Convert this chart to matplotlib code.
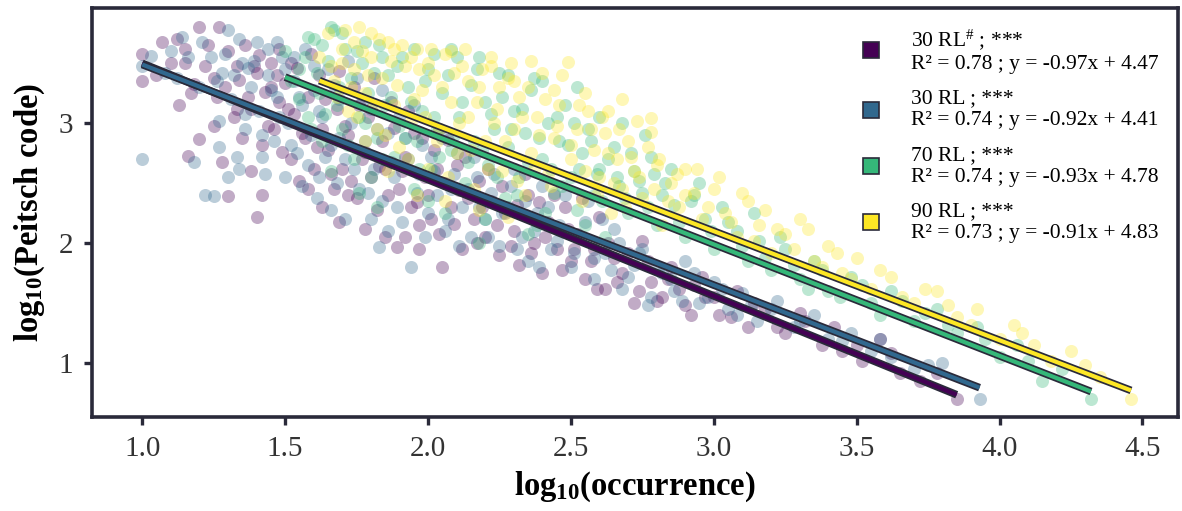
import numpy as np
import matplotlib
matplotlib.use("Agg")
import matplotlib.pyplot as plt
import matplotlib.patheffects as pe
from matplotlib.lines import Line2D

plt.rcParams["font.family"] = ["Liberation Serif", "DejaVu Serif"]
plt.rcParams["mathtext.fontset"] = "custom"
plt.rcParams["mathtext.rm"] = "Liberation Serif"
plt.rcParams["mathtext.bf"] = "Liberation Serif:bold"
plt.rcParams["mathtext.it"] = "Liberation Serif:italic"

# ---- data (log10 occurrence, log10 Peitsch code) ----
rl30_hash_pts = [
    (1.00, 3.58), (1.00, 3.35), (1.05, 3.40), (1.07, 3.68), (1.12, 3.70), (1.15, 3.62), (1.20, 3.80),
    (1.27, 3.80), (1.10, 3.50), (1.13, 3.15), (1.18, 3.33), (1.22, 3.48), (1.25, 3.38), (1.26, 3.22),
    (1.30, 3.60), (1.32, 3.05), (1.34, 3.36), (1.36, 3.65), (1.38, 3.12), (1.40, 3.42), (1.42, 2.82),
    (1.43, 3.26), (1.45, 3.50), (1.46, 2.95), (1.48, 3.18), (1.30, 2.39), (1.42, 2.40), (1.20, 2.87),
    (1.16, 2.73), (1.28, 2.68), (1.35, 2.88), (1.38, 2.60), (1.40, 2.22),
    (1.50, 3.34), (1.52, 2.70), (1.53, 3.08), (1.55, 2.52), (1.57, 2.88), (1.58, 3.22), (1.60, 2.62),
    (1.62, 3.40), (1.63, 2.95), (1.65, 2.78), (1.67, 2.45), (1.68, 3.12), (1.70, 2.62), (1.72, 2.90),
    (1.74, 3.30), (1.75, 2.38), (1.77, 2.70), (1.79, 3.05), (1.80, 2.55), (1.82, 2.28), (1.84, 2.85),
    (1.85, 2.62), (1.87, 3.18), (1.89, 1.97), (1.90, 2.45), (1.92, 2.72), (1.94, 2.30), (1.95, 2.92),
    (1.97, 2.15), (1.99, 2.55), (2.00, 2.40), (2.02, 2.78), (2.04, 2.08), (2.05, 1.80), (2.06, 2.50),
    (2.08, 2.30), (2.10, 2.65), (2.12, 1.95), (2.14, 2.38), (2.16, 2.20), (2.18, 2.52), (2.20, 2.05),
    (2.22, 2.35), (2.25, 1.90), (2.27, 2.25), (2.30, 2.10), (2.32, 1.82), (2.35, 2.40), (2.37, 2.00),
    (2.40, 1.75), (2.42, 2.18), (2.45, 1.95), (2.48, 2.30), (2.50, 1.85), (2.52, 2.08), (2.55, 1.70),
    (2.58, 1.95), (2.60, 2.22), (2.62, 1.62), (2.65, 1.88), (2.68, 1.75), (2.72, 1.50), (2.75, 2.02),
    (2.78, 1.68), (2.82, 1.55), (2.85, 1.80), (2.90, 1.48), (2.93, 1.65), (2.97, 1.55),
    (3.02, 1.40), (3.08, 1.60), (3.12, 1.30), (3.18, 1.45), (3.25, 1.25), (3.32, 1.35), (3.38, 1.15),
    (3.45, 1.10), (3.52, 1.02), (3.58, 1.20), (3.65, 0.92), (3.72, 0.85), (3.85, 0.70),
    (1.33, 3.48), (1.37, 3.22), (1.41, 3.57), (1.44, 2.98), (1.47, 3.40), (1.49, 2.76), (1.51, 3.12),
    (1.54, 3.46), (1.56, 2.92), (1.59, 3.58), (1.61, 2.80), (1.64, 3.20), (1.66, 2.58), (1.69, 3.44),
    (1.71, 2.98), (1.73, 2.52), (1.76, 3.15), (1.78, 2.76), (1.81, 3.38), (1.83, 2.64), (1.86, 2.40),
    (1.88, 2.96), (1.91, 2.60), (1.93, 3.10), (1.96, 2.34), (1.98, 2.88), (2.01, 2.20), (2.03, 2.62),
    (2.07, 2.86), (2.09, 2.16), (2.11, 2.44), (2.13, 2.72), (2.17, 2.00), (2.19, 2.30), (2.21, 2.62),
    (2.24, 2.15), (2.26, 2.48), (2.29, 1.98), (2.31, 2.32), (2.34, 2.58), (2.36, 1.92), (2.39, 2.34),
    (2.41, 2.05), (2.44, 2.40), (2.47, 1.78), (2.49, 2.12), (2.51, 1.95), (2.54, 2.38), (2.57, 1.85),
    (2.59, 1.62), (2.63, 2.00), (2.66, 1.68), (2.70, 1.92), (2.74, 1.60), (2.77, 1.85), (2.80, 1.52),
    (2.84, 1.70), (2.88, 1.62), (2.92, 1.40), (2.96, 1.72), (3.00, 1.55), (3.06, 1.38), (3.14, 1.50),
    (3.22, 1.30), (3.30, 1.42), (3.42, 1.30), (3.50, 1.15), (3.62, 1.08), (3.78, 0.92), (1.15, 3.50),
    (1.17, 3.25), (1.23, 3.65), (1.29, 3.30), (1.33, 3.12), (1.39, 3.48), (1.45, 3.30), (1.48, 3.62),
    (1.52, 3.50), (1.25, 2.98), (1.58, 2.45), (1.63, 2.30), (1.69, 2.18), (1.72, 2.40), (1.78, 2.12),
    (1.85, 2.05), (1.92, 2.05), (1.97, 1.95),
]
rl30_pts = [
    (1.00, 2.70), (1.00, 3.48), (1.03, 3.56), (1.08, 3.42), (1.10, 3.60), (1.14, 3.72), (1.18, 2.68),
    (1.22, 2.40), (1.25, 2.39), (1.20, 3.30), (1.24, 3.55), (1.27, 3.02), (1.28, 3.42), (1.30, 3.78),
    (1.31, 3.20), (1.33, 2.72), (1.35, 3.50), (1.36, 2.95), (1.38, 3.30), (1.40, 3.68), (1.41, 3.10),
    (1.43, 2.58), (1.44, 3.40), (1.46, 2.85), (1.47, 3.22), (1.49, 3.55), (1.50, 2.55), (1.51, 3.00),
    (1.53, 3.35), (1.54, 2.75), (1.56, 3.15), (1.57, 3.62), (1.59, 2.90), (1.60, 3.28), (1.62, 2.55),
    (1.63, 3.05), (1.65, 3.45), (1.66, 2.82), (1.68, 2.50), (1.69, 3.20), (1.71, 2.70), (1.73, 3.00),
    (1.75, 3.38), (1.76, 2.45), (1.78, 2.85), (1.80, 3.12), (1.81, 2.62), (1.83, 1.97), (1.84, 2.35),
    (1.86, 2.92), (1.88, 2.55), (1.90, 3.05), (1.91, 2.18), (1.93, 2.70), (1.94, 1.80), (1.96, 2.42),
    (1.98, 2.82), (2.00, 2.25), (2.02, 2.60), (2.04, 2.95), (2.06, 2.10), (2.08, 2.45), (2.10, 2.75),
    (2.12, 2.30), (2.15, 2.05), (2.17, 2.55), (2.20, 2.20), (2.22, 2.42), (2.25, 1.98), (2.28, 2.30),
    (2.30, 2.62), (2.33, 2.05), (2.35, 1.85), (2.38, 2.25), (2.40, 2.48), (2.43, 1.95), (2.46, 2.15),
    (2.50, 1.80), (2.53, 2.05), (2.56, 2.35), (2.58, 1.70), (2.62, 1.92), (2.65, 2.12), (2.68, 1.62),
    (2.72, 1.82), (2.75, 1.95), (2.78, 1.55), (2.82, 1.75), (2.86, 1.60), (2.90, 1.85), (2.95, 1.50),
    (3.00, 1.68), (3.05, 1.45), (3.10, 1.58), (3.15, 1.35), (3.22, 1.52), (3.28, 1.30), (3.35, 1.40),
    (3.40, 1.20), (3.48, 1.25), (3.55, 1.10), (3.62, 1.05), (3.70, 0.95), (3.80, 1.00), (3.93, 0.70),
    (1.32, 3.40), (1.36, 3.08), (1.39, 3.52), (1.42, 2.90), (1.45, 3.28), (1.48, 3.05), (1.50, 3.45),
    (1.52, 2.82), (1.55, 3.22), (1.58, 2.65), (1.60, 3.48), (1.62, 3.10), (1.64, 2.72), (1.67, 3.32),
    (1.69, 2.88), (1.72, 3.52), (1.74, 2.62), (1.77, 3.18), (1.79, 2.42), (1.82, 2.95), (1.84, 3.28),
    (1.87, 2.68), (1.89, 2.30), (1.92, 2.88), (1.95, 3.15), (1.97, 2.58), (1.99, 2.05), (2.01, 2.72),
    (2.03, 2.40), (2.05, 2.88), (2.07, 2.20), (2.09, 2.58), (2.11, 1.98), (2.14, 2.45), (2.16, 2.72),
    (2.18, 2.30), (2.21, 2.05), (2.23, 2.58), (2.26, 2.25), (2.29, 2.48), (2.31, 1.95), (2.34, 2.35),
    (2.37, 2.10), (2.39, 1.80), (2.42, 2.30), (2.45, 2.02), (2.48, 2.40), (2.51, 1.92), (2.55, 2.18),
    (2.58, 1.88), (2.61, 2.20), (2.64, 1.78), (2.67, 2.00), (2.70, 1.72), (2.74, 1.92), (2.77, 1.48),
    (2.81, 1.80), (2.85, 1.70), (2.89, 1.52), (2.93, 1.75), (2.98, 1.55), (3.03, 1.62), (3.08, 1.40),
    (3.13, 1.48), (3.20, 1.45), (3.30, 1.35), (3.45, 1.18), (3.58, 1.20), (3.75, 0.98), (1.12, 3.38),
    (1.16, 3.55), (1.21, 3.68), (1.26, 3.35), (1.29, 3.58), (1.34, 3.70), (1.37, 3.46), (1.44, 3.62),
    (1.47, 3.68), (1.53, 3.55), (1.27, 2.80), (1.30, 2.55), (1.34, 2.62), (1.42, 2.72), (1.56, 2.48),
    (1.61, 2.38), (1.66, 2.28), (1.71, 2.20), (1.80, 2.20), (1.86, 2.10),
]
rl70_pts = [
    (1.50, 3.60), (1.52, 3.35), (1.55, 3.45), (1.58, 3.05), (1.60, 3.70), (1.62, 3.25), (1.63, 2.85),
    (1.65, 3.52), (1.67, 3.78), (1.68, 3.15), (1.70, 2.95), (1.71, 3.62), (1.73, 3.38), (1.74, 2.70),
    (1.76, 3.05), (1.77, 3.50), (1.79, 3.25), (1.80, 2.55), (1.82, 2.88), (1.83, 3.65), (1.85, 3.15),
    (1.86, 3.40), (1.88, 2.72), (1.90, 2.98), (1.91, 3.55), (1.93, 3.30), (1.95, 2.45), (1.96, 2.85),
    (1.98, 3.10), (2.00, 3.45), (2.01, 2.62), (2.03, 2.95), (2.05, 3.25), (2.06, 2.25), (2.08, 2.78),
    (2.10, 3.55), (2.11, 3.05), (2.13, 2.50), (2.15, 3.32), (2.16, 2.85), (2.18, 2.00), (2.20, 3.18),
    (2.21, 2.65), (2.23, 2.95), (2.25, 3.42), (2.27, 2.38), (2.28, 2.80), (2.30, 3.10), (2.32, 2.55),
    (2.34, 2.92), (2.36, 3.28), (2.38, 2.15), (2.40, 2.70), (2.42, 3.00), (2.44, 2.42), (2.46, 2.85),
    (2.48, 3.15), (2.50, 2.55), (2.52, 2.28), (2.54, 2.75), (2.56, 2.95), (2.58, 2.40), (2.60, 2.62),
    (2.62, 2.05), (2.65, 2.80), (2.67, 2.48), (2.70, 2.25), (2.72, 2.60), (2.75, 2.42), (2.78, 2.72),
    (2.80, 2.15), (2.83, 2.50), (2.86, 2.32), (2.90, 2.05), (2.93, 2.40), (2.97, 2.20), (3.00, 1.95),
    (3.03, 2.30), (3.08, 2.10), (3.12, 1.85), (3.16, 2.02), (3.20, 1.78), (3.25, 1.95), (3.30, 1.70),
    (3.35, 1.85), (3.40, 1.60), (3.48, 1.72), (3.55, 1.50), (3.62, 1.60), (3.70, 1.35), (3.78, 1.45),
    (3.85, 1.25), (3.92, 1.30), (4.00, 1.05), (4.06, 1.15), (4.15, 0.85), (4.22, 0.95), (4.32, 0.70),
    (1.55, 3.20), (1.57, 3.55), (1.59, 2.95), (1.61, 3.42), (1.64, 3.08), (1.66, 2.60), (1.69, 3.30),
    (1.72, 2.82), (1.75, 3.60), (1.78, 3.00), (1.81, 3.42), (1.84, 2.70), (1.87, 3.22), (1.89, 3.48),
    (1.92, 2.88), (1.94, 3.18), (1.97, 2.62), (1.99, 3.35), (2.02, 3.05), (2.04, 2.72), (2.07, 3.40),
    (2.09, 2.90), (2.12, 3.18), (2.14, 2.68), (2.17, 3.45), (2.19, 2.78), (2.22, 3.08), (2.24, 2.55),
    (2.26, 3.22), (2.29, 2.95), (2.31, 2.40), (2.33, 3.12), (2.35, 2.68), (2.37, 3.38), (2.39, 2.88),
    (2.41, 2.25), (2.43, 2.62), (2.45, 3.05), (2.47, 2.48), (2.49, 2.82), (2.51, 3.00), (2.53, 2.62),
    (2.55, 2.15), (2.57, 2.85), (2.59, 2.58), (2.61, 2.35), (2.63, 2.70), (2.66, 2.55), (2.69, 2.38),
    (2.71, 2.75), (2.74, 2.52), (2.77, 2.30), (2.79, 2.58), (2.82, 2.40), (2.85, 2.62), (2.88, 2.18),
    (2.92, 2.35), (2.95, 2.50), (2.99, 2.10), (3.05, 2.18), (3.10, 1.98), (3.14, 2.25), (3.18, 1.88),
    (3.23, 2.05), (3.28, 1.82), (3.33, 1.62), (3.38, 1.78), (3.44, 1.55), (3.52, 1.65), (3.58, 1.40),
    (3.66, 1.52), (3.74, 1.42), (3.82, 1.32), (3.95, 1.20), (4.10, 1.02), (1.58, 3.72), (1.63, 3.65),
    (1.66, 3.80), (1.70, 3.75), (1.78, 3.68), (1.84, 3.55), (1.95, 3.62), (2.02, 3.58), (2.08, 3.62),
    (2.18, 3.55), (2.28, 3.40), (2.40, 3.35), (2.52, 3.30), (2.60, 3.05), (2.68, 3.00), (2.76, 2.90),
    (1.82, 2.30), (1.76, 2.42), (2.00, 2.35), (2.20, 2.20), (2.35, 2.08),
]
rl90_pts = [
    (1.62, 3.55), (1.65, 3.75), (1.67, 3.35), (1.70, 3.62), (1.72, 3.10), (1.74, 3.45), (1.76, 3.80),
    (1.78, 3.25), (1.80, 3.55), (1.82, 2.95), (1.84, 3.38), (1.86, 3.68), (1.88, 3.15), (1.90, 2.80),
    (1.92, 3.48), (1.94, 3.02), (1.96, 3.62), (1.98, 3.28), (2.00, 2.62), (2.02, 3.40), (2.04, 2.95),
    (2.06, 3.58), (2.08, 3.18), (2.10, 2.75), (2.12, 3.48), (2.14, 3.05), (2.16, 2.45), (2.18, 3.30),
    (2.20, 2.85), (2.22, 3.55), (2.24, 3.12), (2.26, 2.60), (2.28, 3.38), (2.30, 2.95), (2.32, 3.22),
    (2.34, 2.40), (2.36, 2.75), (2.38, 3.05), (2.40, 3.42), (2.42, 2.58), (2.44, 2.88), (2.46, 3.15),
    (2.49, 3.51), (2.50, 2.70), (2.52, 2.95), (2.54, 2.35), (2.56, 3.10), (2.58, 2.78), (2.60, 2.55),
    (2.62, 2.92), (2.64, 2.25), (2.66, 2.70), (2.68, 2.45), (2.70, 2.85), (2.72, 2.60), (2.75, 2.38),
    (2.78, 3.04), (2.78, 2.93), (2.80, 2.65), (2.82, 2.15), (2.85, 2.50), (2.88, 2.30), (2.90, 2.62),
    (2.93, 2.42), (2.96, 2.20), (3.00, 2.45), (3.04, 2.25), (3.08, 2.05), (3.12, 2.35), (3.16, 2.15),
    (3.20, 1.92), (3.25, 2.08), (3.30, 2.20), (3.35, 1.85), (3.40, 1.98), (3.45, 1.75), (3.50, 1.88),
    (3.55, 1.62), (3.62, 1.72), (3.70, 1.50), (3.78, 1.60), (3.85, 1.38), (3.92, 1.45), (4.00, 1.20),
    (4.08, 1.25), (4.18, 1.02), (4.25, 1.10), (4.35, 0.88), (4.46, 0.70),
    (1.66, 3.48), (1.68, 3.22), (1.71, 3.78), (1.73, 3.30), (1.75, 3.05), (1.77, 3.60), (1.79, 3.40),
    (1.81, 3.15), (1.83, 3.70), (1.85, 2.90), (1.87, 3.52), (1.89, 3.32), (1.91, 3.65), (1.93, 2.70),
    (1.95, 3.20), (1.97, 3.45), (1.99, 3.05), (2.01, 3.62), (2.03, 2.85), (2.05, 3.30), (2.07, 2.55),
    (2.09, 3.42), (2.11, 3.00), (2.13, 3.62), (2.15, 2.78), (2.17, 3.18), (2.19, 3.45), (2.21, 2.62),
    (2.23, 3.00), (2.25, 3.30), (2.27, 2.85), (2.29, 3.50), (2.31, 2.52), (2.33, 3.05), (2.35, 3.30),
    (2.37, 2.62), (2.39, 2.90), (2.41, 3.20), (2.43, 2.48), (2.45, 2.98), (2.47, 3.40), (2.50, 2.82),
    (2.53, 3.15), (2.55, 2.60), (2.57, 2.95), (2.59, 2.40), (2.61, 3.05), (2.63, 2.75), (2.65, 2.50),
    (2.67, 2.95), (2.69, 2.30), (2.71, 2.72), (2.74, 2.55), (2.77, 2.80), (2.79, 2.45), (2.81, 2.70),
    (2.84, 2.35), (2.87, 2.58), (2.90, 2.40), (2.94, 2.62), (2.98, 2.30), (3.02, 2.55), (3.06, 2.18),
    (3.10, 2.42), (3.14, 2.02), (3.18, 2.28), (3.22, 2.12), (3.28, 1.95), (3.33, 2.12), (3.38, 1.80),
    (3.43, 1.92), (3.48, 1.70), (3.58, 1.78), (3.66, 1.55), (3.74, 1.62), (3.82, 1.48), (3.90, 1.32),
    (4.05, 1.32), (4.12, 1.15), (4.30, 0.98), (1.70, 3.50), (1.74, 3.68), (1.80, 3.75), (1.88, 3.62),
    (1.94, 3.55), (2.00, 3.50), (2.08, 3.60), (2.14, 3.35), (2.22, 3.48), (2.30, 3.35), (2.36, 3.52),
    (2.44, 3.28), (2.55, 3.25), (2.63, 3.10), (2.68, 3.20), (2.73, 3.02), (1.78, 2.85), (1.86, 2.60),
    (1.96, 2.40), (2.06, 2.35), (2.18, 2.28), (2.28, 2.22),
]

series_names = ["30 RL$^{\\#}$ ; ***", "30 RL ; ***", "70 RL ; ***", "90 RL ; ***"]
r2_values = [0.78, 0.74, 0.74, 0.73]
slopes = [-0.97, -0.92, -0.93, -0.91]
intercepts = [4.47, 4.41, 4.78, 4.83]
all_pts = [rl30_hash_pts, rl30_pts, rl70_pts, rl90_pts]

colors = ["#440154", "#31688e", "#35b779", "#fde725"]
edge = "#2a2a3a"

fig = plt.figure(figsize=(11.82, 5.11), dpi=100)
ax = fig.add_axes([0.078, 0.184, 0.919, 0.800])

for pts, c in zip(all_pts, colors):
    arr = np.array(pts)
    ax.scatter(arr[:, 0], arr[:, 1], s=88, color=c, alpha=0.33, linewidths=0, zorder=2)

handles = []
for pts, c, name, r2, m, b in zip(all_pts, colors, series_names, r2_values, slopes, intercepts):
    arr = np.array(pts)
    xs = np.array([arr[:, 0].min(), arr[:, 0].max()])
    ax.plot(xs, m * xs + b, color=c, lw=3, solid_capstyle="butt", zorder=3,
            path_effects=[pe.Stroke(linewidth=5.5, foreground=edge), pe.Normal()])
    lbl = f"{name}\nR\u00b2 = {r2:.2f} ; y = {m:.2f}x + {b:.2f}"
    handles.append(Line2D([], [], ls="none", marker="s", markersize=11, markerfacecolor=c,
                          markeredgecolor=edge, markeredgewidth=1.2, label=lbl))

ax.legend(handles=handles, loc="upper right", bbox_to_anchor=(1.0, 1.0), frameon=False,
          fontsize=15.5, handletextpad=1.4, labelspacing=0.72, handlelength=1.0)

ax.set_xlim(0.825, 4.626)
ax.set_ylim(0.55, 3.96)
ax.set_xticks([1.0, 1.5, 2.0, 2.5, 3.0, 3.5, 4.0, 4.5])
ax.set_yticks([1, 2, 3])
ax.set_xlabel(r"log$_{\mathbf{10}}$(occurrence)", fontsize=23.5, fontweight="bold", labelpad=5)
ax.set_ylabel(r"log$_{\mathbf{10}}$(Peitsch code)", fontsize=23.5, fontweight="bold", labelpad=8)

for s in ax.spines.values():
    s.set_linewidth(2.6)
    s.set_color(edge)
ax.tick_params(direction="out", length=6, width=2.4, color=edge, labelsize=21, pad=8,
               labelcolor="#333333")

fig.savefig("out.png", dpi=100)
